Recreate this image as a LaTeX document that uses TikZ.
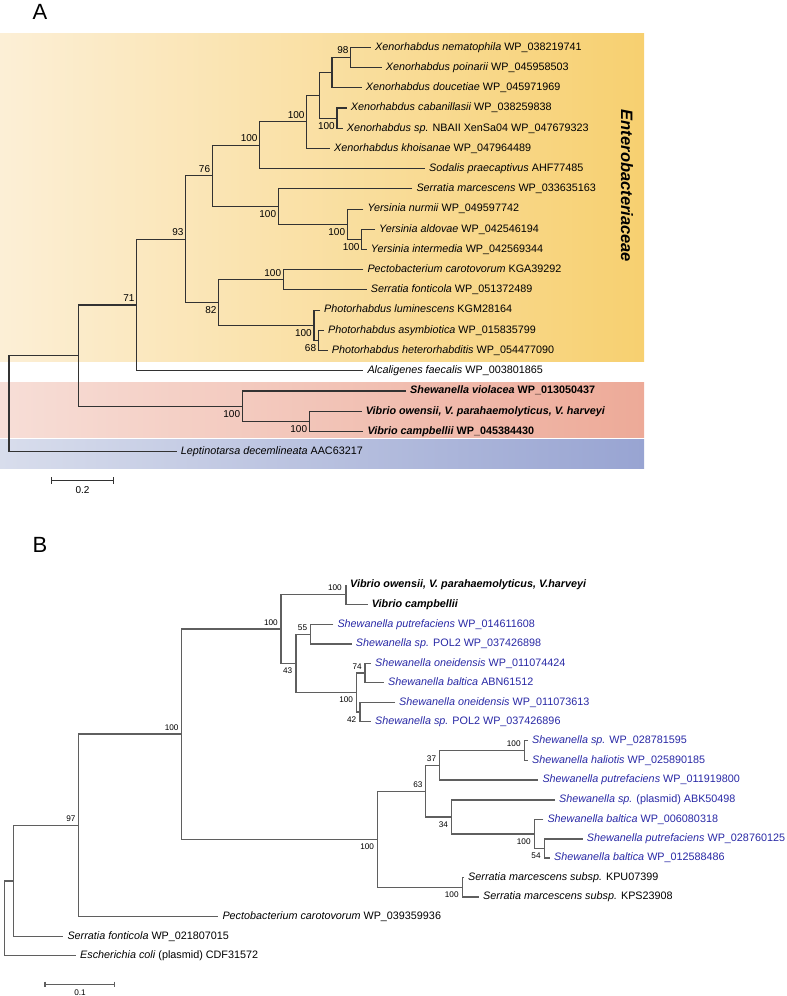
\documentclass[tikz,border=0pt]{standalone}
\usepackage{fontspec}
\setmainfont{Liberation Sans}
\usetikzlibrary{positioning}
\definecolor{lineA}{RGB}{50,50,50}
\definecolor{lineB}{RGB}{95,95,95}
\definecolor{shewblue}{RGB}{40,40,165}
\definecolor{yelL}{RGB}{252,239,214}
\definecolor{yelR}{RGB}{247,208,112}
\definecolor{redL}{RGB}{247,222,215}
\definecolor{redR}{RGB}{237,170,152}
\definecolor{bluL}{RGB}{216,221,236}
\definecolor{bluR}{RGB}{152,164,210}
\newcommand\clade[4]{\draw[#1] (#3) -| (#2) |- (#4);}
\tikzset{
  treeA/.style={draw=lineA, line width=1.1pt},
  treeB/.style={draw=lineB, line width=1.25pt},
  leafA/.style={anchor=west, inner xsep=4pt, inner ysep=0pt, text height=7.8pt, text depth=2.2pt, font=\fontsize{10.8}{13}\selectfont},
  leafB/.style={leafA},
  leafBb/.style={leafA, text=shewblue},
  bootA/.style={font=\fontsize{10}{12}\selectfont, inner sep=0pt},
  bootB/.style={font=\fontsize{8.2}{10}\selectfont, inner sep=0pt},
  panel/.style={font=\fontsize{22}{26}\selectfont, inner sep=0pt},
  scalebar/.style={draw=lineA, line width=1.1pt},
}
\begin{document}
\begin{tikzpicture}[x=1pt,y=-1pt]
\useasboundingbox (0,0) rectangle (787,996);
% ---------------- Panel A ----------------
\node[panel] (labA) at (40,12) {A};
\shade[left color=yelL, right color=yelR] (0,33) rectangle (644,361);
\shade[left color=redL, right color=redR] (0,382) rectangle (644,437.5);
\shade[left color=bluL, right color=bluR] (0,439.5) rectangle (644,468);
\node[rotate=-90, inner sep=0pt, font=\fontsize{16.5}{18}\selectfont\bfseries\itshape] (ent) at (627,186) {Enterobacteriaceae};

\node[leafA] (A0) at (371,47.3) {\textit{Xenorhabdus nematophila} WP\_038219741};
\node[leafA] (A1) at (381.7,67.5) {\textit{Xenorhabdus poinarii} WP\_045958503};
\node[leafA] (A2) at (361.7,87.7) {\textit{Xenorhabdus doucetiae} WP\_045971969};
\node[leafA] (A3) at (346.7,108) {\textit{Xenorhabdus cabanillasii} WP\_038259838};
\node[leafA] (A4) at (342.7,128.2) {\textit{Xenorhabdus sp.} NBAII XenSa04 WP\_047679323};
\node[leafA] (A5) at (330,148.4) {\textit{Xenorhabdus khoisanae} WP\_047964489};
\node[leafA] (A6) at (425,168.6) {\textit{Sodalis praecaptivus} AHF77485};
\node[leafA] (A7) at (412.3,188.8) {\textit{Serratia marcescens} WP\_033635163};
\node[leafA] (A8) at (363.3,209.1) {\textit{Yersinia nurmii} WP\_049597742};
\node[leafA] (A9) at (375,229.3) {\textit{Yersinia aldovae} WP\_042546194};
\node[leafA] (A10) at (366.7,249.5) {\textit{Yersinia intermedia} WP\_042569344};
\node[leafA] (A11) at (363.3,269.7) {\textit{Pectobacterium carotovorum} KGA39292};
\node[leafA] (A12) at (366.7,289.9) {\textit{Serratia fonticola} WP\_051372489};
\node[leafA] (A13) at (320,310.1) {\textit{Photorhabdus luminescens} KGM28164};
\node[leafA] (A14) at (324,330.4) {\textit{Photorhabdus asymbiotica} WP\_015835799};
\node[leafA] (A15) at (327.7,350.6) {\textit{Photorhabdus heterorhabditis} WP\_054477090};
\node[leafA] (A16) at (363.3,370.8) {\textit{Alcaligenes faecalis} WP\_003801865};
\node[leafA] (A17) at (406,391) {\textbf{\textit{Shewanella violacea} WP\_013050437}};
\node[leafA] (A18) at (361.7,411.2) {\textbf{\textit{Vibrio owensii, V. parahaemolyticus, V. harveyi}}};
\node[leafA] (A19) at (363.3,431.5) {\textbf{\textit{Vibrio campbellii} WP\_045384430}};
\node[leafA] (A20) at (176.7,451.7) {\textit{Leptinotarsa decemlineata} AAC63217};

\coordinate (a98) at (350.7,57.4);
\coordinate (a2) at (332,72.55);
\coordinate (acs) at (337,118.1);
\coordinate (ax1) at (319.7,95.3);
\coordinate (ax) at (306.7,121.9);
\coordinate (axs) at (259.7,145.2);
\coordinate (ayai) at (361.7,239.4);
\coordinate (ay) at (347.3,224.2);
\coordinate (asy) at (278.3,206.5);
\coordinate (a76) at (212.3,175.9);
\coordinate (apf) at (283.3,279.8);
\coordinate (apah) at (318.3,340.5);
\coordinate (ap) at (314,325.3);
\coordinate (a82) at (218.7,302.6);
\coordinate (a93) at (185.7,239.2);
\coordinate (a71) at (136.7,305);
\coordinate (avib) at (309.3,421.3);
\coordinate (ashew) at (242.3,406.2);
\coordinate (ain) at (78.7,355.6);
\coordinate (aroot) at (9,355.6);

\clade{treeA}{a98}{A0.west}{A1.west}
\clade{treeA}{a2}{a98}{A2.west}
\clade{treeA}{acs}{A3.west}{A4.west}
\clade{treeA}{ax1}{a2}{acs}
\clade{treeA}{ax}{ax1}{A5.west}
\clade{treeA}{axs}{ax}{A6.west}
\clade{treeA}{ayai}{A9.west}{A10.west}
\clade{treeA}{ay}{A8.west}{ayai}
\clade{treeA}{asy}{A7.west}{ay}
\clade{treeA}{a76}{axs}{asy}
\clade{treeA}{apf}{A11.west}{A12.west}
\clade{treeA}{apah}{A14.west}{A15.west}
\clade{treeA}{ap}{A13.west}{apah}
\clade{treeA}{a82}{apf}{ap}
\clade{treeA}{a93}{a76}{a82}
\clade{treeA}{a71}{a93}{A16.west}
\clade{treeA}{avib}{A18.west}{A19.west}
\clade{treeA}{ashew}{A17.west}{avib}
\clade{treeA}{ain}{a71}{ashew}
\clade{treeA}{aroot}{ain}{A20.west}

\node[bootA, above left=3.5pt and 2pt of a98] (tA1) {98};
\node[bootA, above left=3pt and 2pt of ax] (tA2) {100};
\node[bootA, above left=3pt and 2pt of axs] (tA3) {100};
\node[bootA, above left=3pt and 2pt of a76] (tA4) {76};
\node[bootA, above left=3pt and 2pt of apf] (tA5) {100};
\node[bootA, above left=3pt and 2pt of a93] (tA6) {93};
\node[bootA, above left=3pt and 2pt of a71] (tA7) {71};
\node[bootA, below left=4pt and 2pt of acs] (tA8) {100};
\node[bootA, below left=4pt and 2pt of asy] (tA9) {100};
\node[bootA, below left=4pt and 2pt of ay] (tA10) {100};
\node[bootA, below left=4pt and 2pt of ayai] (tA11) {100};
\node[bootA, below left=4pt and 2pt of a82] (tA12) {82};
\node[bootA, below left=4pt and 2pt of ap] (tA13) {100};
\node[bootA, below left=4pt and 2pt of apah] (tA14) {68};
\node[bootA, below left=4pt and 2pt of ashew] (tA15) {100};
\node[bootA, below left=4pt and 2pt of avib] (tA16) {100};

\coordinate (sA1) at (51.7,480.7);
\coordinate (sA2) at (113.3,480.7);
\draw[scalebar] (sA1) -- (sA2);
\draw[scalebar] ([yshift=3.3pt]sA1) -- ([yshift=-3.3pt]sA1);
\draw[scalebar] ([yshift=3.3pt]sA2) -- ([yshift=-3.3pt]sA2);
\node[bootA] (sAt) at (82.5,490) {0.2};

% ---------------- Panel B ----------------
\node[panel] (labB) at (40,545) {B};

\node[leafB] (B0) at (346,585) {\textbf{\textit{Vibrio owensii, V. parahaemolyticus, V.harveyi}}};
\node[leafB] (B1) at (367.7,604.5) {\textbf{\textit{Vibrio campbellii}}};
\node[leafBb] (B2) at (333.3,624.5) {\textit{Shewanella putrefaciens} WP\_014611608};
\node[leafBb] (B3) at (351.7,644) {\textit{Shewanella sp.} POL2 WP\_037426898};
\node[leafBb] (B4) at (371,663.3) {\textit{Shewanella oneidensis} WP\_011074424};
\node[leafBb] (B5) at (384,682.7) {\textit{Shewanella baltica} ABN61512};
\node[leafBb] (B6) at (395,702.3) {\textit{Shewanella oneidensis} WP\_011073613};
\node[leafBb] (B7) at (371,721.7) {\textit{Shewanella sp.} POL2 WP\_037426896};
\node[leafBb] (B8) at (528,740.7) {\textit{Shewanella sp.} WP\_028781595};
\node[leafBb] (B9) at (528,760.3) {\textit{Shewanella haliotis} WP\_025890185};
\node[leafBb] (B10) at (538.3,780) {\textit{Shewanella putrefaciens} WP\_011919800};
\node[leafBb] (B11) at (555,800) {\textit{Shewanella sp.} (plasmid) ABK50498};
\node[leafBb] (B12) at (543.3,819.5) {\textit{Shewanella baltica} WP\_006080318};
\node[leafBb] (B13) at (582.7,839) {\textit{Shewanella putrefaciens} WP\_028760125};
\node[leafBb] (B14) at (550,858) {\textit{Shewanella baltica} WP\_012588486};
\node[leafB] (B15) at (464,877.5) {\textit{Serratia marcescens subsp.} KPU07399};
\node[leafB] (B16) at (479,897) {\textit{Serratia marcescens subsp.} KPS23908};
\node[leafB] (B17) at (218.3,916.7) {\textit{Pectobacterium carotovorum} WP\_039359936};
\node[leafB] (B18) at (63.3,936.3) {\textit{Serratia fonticola} WP\_021807015};
\node[leafB] (B19) at (76,955.7) {\textit{Escherichia coli} (plasmid) CDF31572};

\coordinate (bvib) at (346,594.7);
\coordinate (b55) at (310.3,634.3);
\coordinate (b74) at (365,673);
\coordinate (b42) at (360,712);
\coordinate (b100s) at (356.7,692.5);
\coordinate (b43) at (296,663.4);
\coordinate (b100v) at (281,629);
\coordinate (bhal) at (524.3,750.5);
\coordinate (b37) at (439.3,765.3);
\coordinate (b54) at (544.3,848.5);
\coordinate (b100bal) at (534.3,834);
\coordinate (b34) at (451.7,817);
\coordinate (b63) at (425.7,791.2);
\coordinate (bser) at (462.3,887.2);
\coordinate (b100r) at (377.7,839.2);
\coordinate (b100top) at (181.7,734.1);
\coordinate (b97) at (78.7,825.4);
\coordinate (bsf) at (13.3,880.9);
\coordinate (broot) at (4.3,918.3);

\clade{treeB}{bvib}{B0.west}{B1.west}
\clade{treeB}{b55}{B2.west}{B3.west}
\clade{treeB}{b74}{B4.west}{B5.west}
\clade{treeB}{b42}{B6.west}{B7.west}
\clade{treeB}{b100s}{b74}{b42}
\clade{treeB}{b43}{b55}{b100s}
\clade{treeB}{b100v}{bvib}{b43}
\clade{treeB}{bhal}{B8.west}{B9.west}
\clade{treeB}{b37}{bhal}{B10.west}
\clade{treeB}{b54}{B13.west}{B14.west}
\clade{treeB}{b100bal}{B12.west}{b54}
\clade{treeB}{b34}{B11.west}{b100bal}
\clade{treeB}{b63}{b37}{b34}
\clade{treeB}{bser}{B15.west}{B16.west}
\clade{treeB}{b100r}{b63}{bser}
\clade{treeB}{b100top}{b100v}{b100r}
\clade{treeB}{b97}{b100top}{B17.west}
\clade{treeB}{bsf}{b97}{B18.west}
\clade{treeB}{broot}{bsf}{B19.west}

\node[bootB, above left=3.5pt and 4pt of bvib] (tB1) {100};
\node[bootB, above left=3.5pt and 3pt of b55] (tB2) {55};
\node[bootB, above left=3.5pt and 3pt of b74] (tB3) {74};
\node[bootB, above left=3.5pt and 3pt of b100v] (tB4) {100};
\node[bootB, above left=3.5pt and 3pt of b37] (tB5) {37};
\node[bootB, above left=3.5pt and 3pt of b63] (tB6) {63};
\node[bootB, above left=3.5pt and 3.5pt of bhal] (tB7) {100};
\node[bootB, above left=3.5pt and 3pt of b100top] (tB8) {100};
\node[bootB, above left=3.5pt and 3pt of b97] (tB9) {97};
\node[bootB, below left=4.5pt and 3.5pt of b43] (tB10) {43};
\node[bootB, below left=4.5pt and 3.5pt of b100s] (tB11) {100};
\node[bootB, below left=4.5pt and 3.5pt of b42] (tB12) {42};
\node[bootB, below left=4.5pt and 3.5pt of b34] (tB13) {34};
\node[bootB, below left=4.5pt and 3.5pt of b100bal] (tB14) {100};
\node[bootB, below left=4.5pt and 3.5pt of b54] (tB15) {54};
\node[bootB, below left=4.5pt and 3.5pt of bser] (tB16) {100};
\node[bootB, below left=4.5pt and 3.5pt of b100r] (tB17) {100};

\coordinate (sB1) at (45,984.3);
\coordinate (sB2) at (114.3,984.3);
\draw[treeB] (sB1) -- (sB2);
\draw[treeB] ([yshift=2.8pt]sB1) -- ([yshift=-2.8pt]sB1);
\draw[treeB] ([yshift=2.8pt]sB2) -- ([yshift=-2.8pt]sB2);
\node[bootB] (sBt) at (80,992.5) {0.1};
\end{tikzpicture}
\end{document}
